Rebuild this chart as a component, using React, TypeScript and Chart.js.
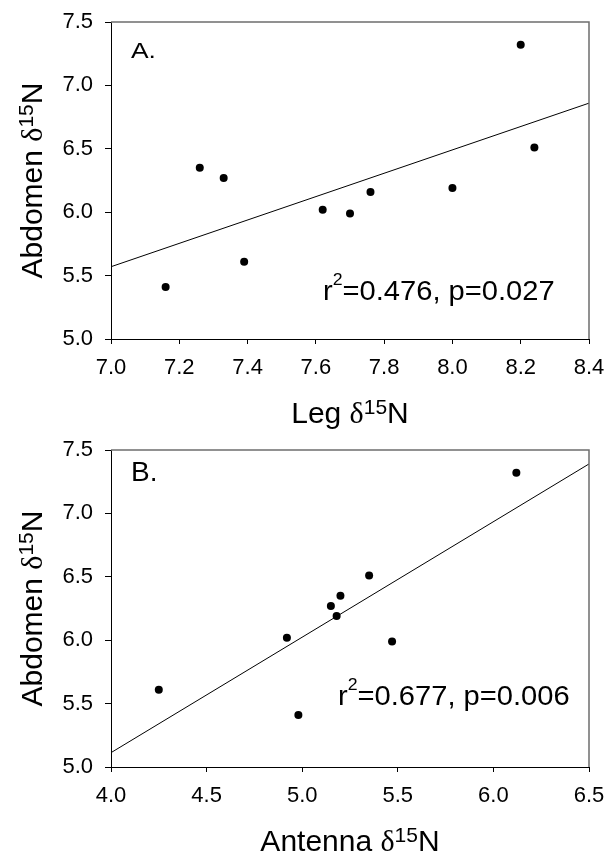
import React, { useEffect, useRef } from 'react';
import { Chart, registerables } from 'chart.js';

Chart.register(...registerables);

// ---------- Data ----------
// Panel A: Leg vs Abdomen
const legN = [7.16, 7.26, 7.33, 7.39, 7.62, 7.70, 7.76, 8.00, 8.20, 8.24];
const abdomenA = [5.41, 6.35, 6.27, 5.61, 6.02, 5.99, 6.16, 6.19, 7.32, 6.51];
const fitAx = [7.0, 8.4];
const fitAy = [5.57, 6.86];

// Panel B: Antenna vs Abdomen
const antennaN = [4.25, 4.92, 4.98, 5.15, 5.18, 5.20, 5.35, 5.47, 6.12];
const abdomenB = [5.61, 6.02, 5.41, 6.27, 6.19, 6.35, 6.51, 5.99, 7.32];
const fitBx = [4.0, 6.5];
const fitBy = [5.113, 7.39];

// Tick values
const xTicksA = [7.0, 7.2, 7.4, 7.6, 7.8, 8.0, 8.2, 8.4];
const xTicksB = [4.0, 4.5, 5.0, 5.5, 6.0, 6.5];
const yTicks = [5.0, 5.5, 6.0, 6.5, 7.0, 7.5];

// Texts
const panelLabels = ['A.', 'B.'];
const xTitleWords = ['Leg', 'Antenna'];
const yTitleWord = 'Abdomen';
const r2Values = ['0.476', '0.677'];
const pValues = ['0.027', '0.006'];

// ---------- Styling ----------
const SANS = '"Liberation Sans", Arial, Helvetica, sans-serif';
const SERIF = '"Liberation Serif", "Times New Roman", serif';

type Part = { t: string; f: string; dy?: number };

function drawRich(ctx: CanvasRenderingContext2D, parts: Part[], x: number, y: number, align: 'left' | 'center', scaleX = 1) {
  ctx.save();
  ctx.fillStyle = '#000';
  ctx.textBaseline = 'alphabetic';
  ctx.textAlign = 'left';
  let total = 0;
  const widths = parts.map((p) => {
    ctx.font = p.f;
    const w = ctx.measureText(p.t).width;
    total += w;
    return w;
  });
  ctx.translate(x, y);
  ctx.scale(scaleX, 1);
  let cx = align === 'center' ? -total / 2 : 0;
  parts.forEach((p, i) => {
    ctx.font = p.f;
    ctx.fillText(p.t, cx, p.dy || 0);
    cx += widths[i];
  });
  ctx.restore();
}

function deltaTitle(word: string): Part[] {
  return [
    { t: word + ' ', f: `30px ${SANS}` },
    { t: 'δ', f: `30px ${SERIF}` },
    { t: '15', f: `21px ${SANS}`, dy: -9 },
    { t: 'N', f: `30px ${SANS}` },
  ];
}

function statsParts(r2: string, p: string): Part[] {
  return [
    { t: 'r', f: `28px ${SANS}` },
    { t: '2', f: `17px ${SANS}`, dy: -15 },
    { t: `=${r2}, p=${p}`, f: `28px ${SANS}` },
  ];
}

type PanelCfg = {
  idx: number;
  xs: number[];
  ys: number[];
  fx: number[];
  fy: number[];
  xTicks: number[];
  top: number;
  height: number;
  padTop: number;
  xAxisHeight: number;
  statsDx: number;
  statsDy: number;
  labelDy: number;
  labelFont: string;
  labelScaleX: number;
};

function Panel({ cfg }: { cfg: PanelCfg }) {
  const ref = useRef<HTMLCanvasElement | null>(null);
  useEffect(() => {
    if (!ref.current) return;
    const i = cfg.idx;
    const textPlugin = {
      id: 'textPlugin' + i,
      afterDraw(chart: any) {
        const ctx = chart.ctx as CanvasRenderingContext2D;
        const a = chart.chartArea;
        // top & right frame
        ctx.save();
        ctx.strokeStyle = '#6e6e6e';
        ctx.lineWidth = 1.5;
        ctx.beginPath();
        ctx.moveTo(a.left, a.top);
        ctx.lineTo(a.right, a.top);
        ctx.lineTo(a.right, a.bottom);
        ctx.stroke();
        ctx.restore();
        // x title
        drawRich(ctx, deltaTitle(xTitleWords[i]), (a.left + a.right) / 2, a.bottom + 84, 'center');
        // y title (rotated)
        ctx.save();
        ctx.translate(42, (a.top + a.bottom) / 2);
        ctx.rotate(-Math.PI / 2);
        drawRich(ctx, deltaTitle(yTitleWord), 0, 0, 'center');
        ctx.restore();
        // stats
        drawRich(ctx, statsParts(r2Values[i], pValues[i]), a.left + cfg.statsDx, a.top + cfg.statsDy, 'left', 1.04);
        // panel label
        drawRich(ctx, [{ t: panelLabels[i], f: cfg.labelFont }], a.left + 20, a.top + cfg.labelDy, 'left', cfg.labelScaleX);
      },
    };
    const tickFont = { family: SANS, size: 22 };
    const chart = new Chart(ref.current, {
      type: 'scatter',
      data: {
        datasets: [
          {
            type: 'line',
            data: cfg.fx.map((x, k) => ({ x, y: cfg.fy[k] })),
            borderColor: '#000',
            borderWidth: 1,
            pointRadius: 0,
            fill: false,
            tension: 0,
          } as any,
          {
            type: 'scatter',
            data: cfg.xs.map((x, k) => ({ x, y: cfg.ys[k] })),
            backgroundColor: '#000',
            borderColor: '#000',
            borderWidth: 0,
            pointRadius: 4,
          },
        ],
      },
      options: {
        animation: false,
        responsive: false,
        maintainAspectRatio: false,
        devicePixelRatio: 1,
        events: [],
        layout: { padding: { top: cfg.padTop, right: 20, left: 0, bottom: 0 } },
        plugins: { legend: { display: false }, tooltip: { enabled: false }, title: { display: false } },
        scales: {
          x: {
            type: 'linear',
            position: 'bottom',
            min: cfg.xTicks[0],
            max: cfg.xTicks[cfg.xTicks.length - 1],
            afterBuildTicks: (s: any) => {
              s.ticks = cfg.xTicks.map((v) => ({ value: v }));
            },
            afterFit: (s: any) => {
              s.height = cfg.xAxisHeight;
              s.paddingLeft = 0;
              s.paddingRight = 0;
            },
            ticks: {
              callback: (v: any) => Number(v).toFixed(1),
              color: '#000',
              font: tickFont,
              padding: 11,
              maxRotation: 0,
              autoSkip: false,
            },
            grid: { drawOnChartArea: false, drawTicks: true, tickLength: 5, tickColor: '#000', tickWidth: 1 },
            border: { display: true, color: '#000', width: 1 },
          },
          y: {
            type: 'linear',
            position: 'left',
            min: yTicks[0],
            max: yTicks[yTicks.length - 1],
            afterBuildTicks: (s: any) => {
              s.ticks = yTicks.map((v) => ({ value: v }));
            },
            afterFit: (s: any) => {
              s.width = 111;
              s.paddingTop = 0;
              s.paddingBottom = 0;
            },
            ticks: {
              callback: (v: any) => Number(v).toFixed(1),
              color: '#000',
              font: tickFont,
              padding: 12,
              autoSkip: false,
            },
            grid: { drawOnChartArea: false, drawTicks: true, tickLength: 6, tickColor: '#000', tickWidth: 1 },
            border: { display: true, color: '#000', width: 1 },
          },
        },
      } as any,
      plugins: [textPlugin],
    });
    return () => chart.destroy();
  }, [cfg]);
  return (
    <canvas
      ref={ref}
      width={609}
      height={cfg.height}
      style={{ position: 'absolute', left: 0, top: cfg.top, width: 609, height: cfg.height, display: 'block' }}
    />
  );
}

const panelA: PanelCfg = {
  idx: 0,
  xs: legN,
  ys: abdomenA,
  fx: fitAx,
  fy: fitAy,
  xTicks: xTicksA,
  top: 0,
  height: 436,
  padTop: 22,
  xAxisHeight: 97,
  statsDx: 212,
  statsDy: 278,
  labelDy: 35.5,
  labelFont: `22px ${SANS}`,
  labelScaleX: 1.2,
};

const panelB: PanelCfg = {
  idx: 1,
  xs: antennaN,
  ys: abdomenB,
  fx: fitBx,
  fy: fitBy,
  xTicks: xTicksB,
  top: 436,
  height: 418,
  padTop: 14,
  xAxisHeight: 87,
  statsDx: 227,
  statsDy: 255,
  labelDy: 30.7,
  labelFont: `28px ${SANS}`,
  labelScaleX: 1,
};

export default function App() {
  return (
    <div style={{ position: 'absolute', left: 0, top: 0, width: 609, height: 854, background: '#fff' }}>
      <Panel cfg={panelA} />
      <Panel cfg={panelB} />
    </div>
  );
}
